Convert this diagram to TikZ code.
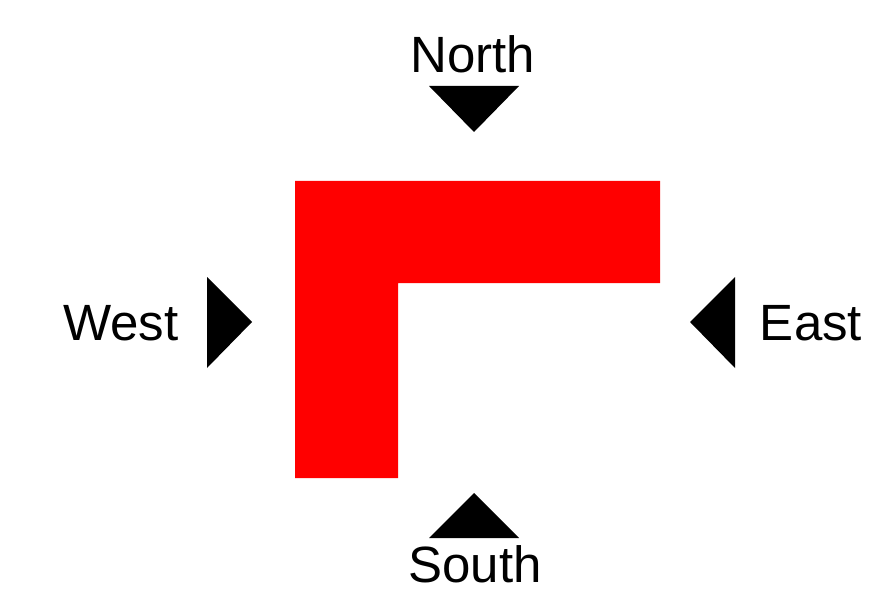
\documentclass[tikz,border=0pt]{standalone}
\usepackage{fontspec}
\setmainfont{Liberation Sans}
\usepackage{tikz}
\usetikzlibrary{positioning}
\tikzset{
  lblock/.style={fill=red, draw=none},
  pointer/.style={fill=black, draw=none},
  dirlabel/.style={font=\fontsize{51}{60}\selectfont, inner sep=0pt, anchor=base},
}

\begin{document}
\begin{tikzpicture}[x=1pt, y=-1pt]
  \useasboundingbox (0,0) rectangle (890,609);

  % The red L block
  \fill[lblock] (295,181) -- (660,181) -- (660,283) -- (398,283)
    -- (398,478) -- (295,478) -- cycle;

  % Direction pointers
  \coordinate (ntip) at (474,132);
  \coordinate (stip) at (474,493);
  \coordinate (wtip) at (252,322);
  \coordinate (etip) at (690,322);
  \fill[pointer] (ntip) -- (429,86) -- (519,86) -- cycle;
  \fill[pointer] (stip) -- (429,538) -- (519,538) -- cycle;
  \fill[pointer] (wtip) -- (207,277) -- (207,368) -- cycle;
  \fill[pointer] (etip) -- (735,277) -- (735,368) -- cycle;

  % Labels
  \node[dirlabel] (north) at (473,73) {North};
  \node[dirlabel] (south) at (475,582) {South};
  \node[dirlabel] (west) at (121,340) {West};
  \node[dirlabel] (east) at (811,340) {East};
\end{tikzpicture}
\end{document}
